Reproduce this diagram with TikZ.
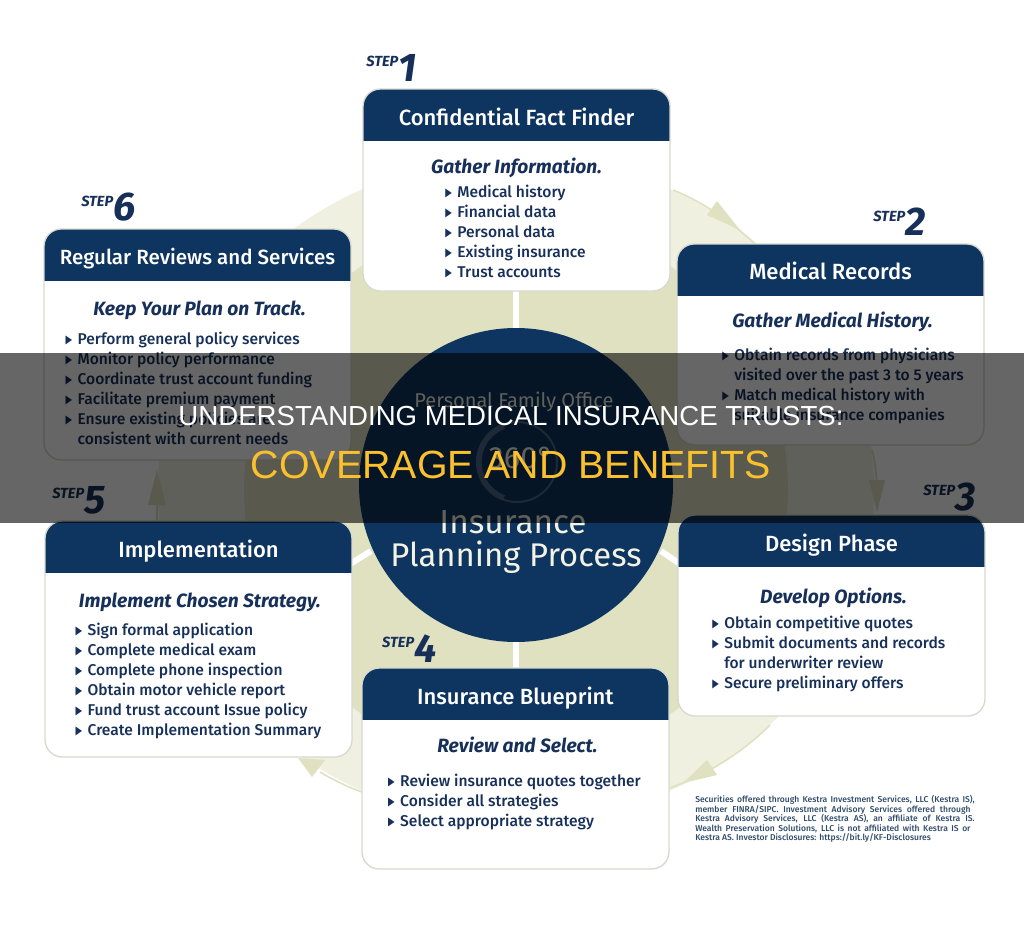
\documentclass[tikz,border=0pt]{standalone}
\usepackage{fontspec}
\setmainfont{Fira Sans}
\newfontfamily\medfont{Fira Sans Medium}
\newfontfamily\bannerfont{Liberation Sans}
\newfontfamily\tridfont{DejaVu Sans}
\usetikzlibrary{positioning}

\definecolor{navy}{HTML}{0E3560}
\definecolor{inknavy}{HTML}{17305A}
\definecolor{ringpale}{HTML}{EFF0E0}
\definecolor{ringdark}{HTML}{DFE1C1}
\definecolor{cardedge}{HTML}{D8D9D0}
\definecolor{hubcream}{HTML}{F2F3E4}
\definecolor{finegrey}{HTML}{2E4A68}
\definecolor{bannergold}{HTML}{FBC02D}

\newcommand{\itm}[1]{\rule{0pt}{11pt}\makebox[9pt][l]{\raisebox{0.6pt}{\tridfont\fontsize{8}{8}\selectfont\scalebox{0.8}[1.1]{▶}}}#1}
\newcommand{\cont}[1]{\rule{0pt}{11pt}\hspace*{9pt}#1}
\newcommand{\stepno}[1]{\raisebox{11pt}{\fontsize{11}{11}\selectfont STEP}\kern0.4pt{\fontsize{30}{30}\selectfont #1}}
\newcommand{\fineline}[2]{\makebox[#1][s]{#2}}

\tikzset{card/.style={rectangle,rounded corners=13pt,draw=cardedge,fill=white,line width=1pt,outer sep=0pt,inner sep=0pt,minimum width=230.25pt,
  path picture={\fill[navy,sharp corners] (path picture bounding box.north west) rectangle ([yshift=-39pt]path picture bounding box.north east);}}}
\tikzset{cardhead/.style={text=white,font=\medfont\fontsize{16.5}{16.5}\selectfont,inner sep=0pt,text height=12pt,text depth=3.5pt}}
\tikzset{cardsub/.style={text=inknavy,font=\bfseries\itshape\fontsize{14.4}{14.4}\selectfont,inner sep=0pt,text height=11pt,text depth=3.5pt}}
\tikzset{cardlist/.style={text=inknavy,anchor=north west,align=left,inner sep=0pt,font=\medfont\fontsize{11.7}{15}\selectfont}}
\tikzset{steplabel/.style={text=inknavy,anchor=base west,inner sep=0pt,font=\bfseries\itshape}}
\tikzset{hubtext/.style={text=hubcream,inner sep=0pt}}
\tikzset{spoke/.style={white,line width=4.5pt}}

\begin{document}
\begin{tikzpicture}[x=0.75pt,y=-0.75pt]
\useasboundingbox (0,0) rectangle (1024,925);
\fill[white] (0,0) rectangle (1024,925);
% ring and its arrows
\fill[ringpale] (516,490) ellipse [x radius=358,y radius=333];
\draw[ringdark,line width=1.2pt] (673,190) .. controls (705,203) and (732,222) .. (758,247);
\draw[ringdark,line width=1.2pt] (872,450) .. controls (875,460) and (876,470) .. (877,490);
\draw[ringdark,line width=1.2pt] (770,725) .. controls (740,755) and (705,775) .. (670,788);
\draw[ringdark,line width=1.2pt] (320,772) .. controls (335,781) and (348,787) .. (362,792);
\draw[ringdark,line width=1.2pt] (157,490) -- (157,521);
\fill[ringdark] (516,490) circle [radius=272];
\fill[ringdark] (717,201) -- (740,230) -- (707,215) -- cycle;
\fill[ringdark] (885,480) -- (877,512) -- (869,480) -- cycle;
\fill[ringdark] (717,775) -- (683,783) -- (707,760) -- cycle;
\fill[ringdark] (312,777) -- (298,758) -- (325,760) -- cycle;
\fill[ringdark] (148,505) -- (157,470) -- (166,505) -- cycle;

\node (hub) [circle,fill=navy,minimum size=235.5pt,inner sep=0pt,outer sep=0pt] at (516,485) {};
\draw[spoke] (516,285) -- (hub.north);
\draw[spoke] (516,672) -- (hub.south);
\draw[spoke] (350,564) -- (371,551);
\draw[spoke] (661,551) -- (680,564);

\node (hubA) [hubtext,font=\fontsize{15}{15}\selectfont] at (514,402) {Personal Family Office};
\draw[line width=1.5pt,color=navy!75!white] (517,462) circle [radius=40];
\draw[line width=4pt,color=navy!75!white] (517,462) ++(110:38) arc [start angle=110,end angle=250,radius=38];
\node (hubB) [hubtext,font=\fontsize{23}{23}\selectfont] at (521,458) {360°};
\node (hubC) [hubtext,font=\fontsize{25}{25}\selectfont] at (513,522) {Insurance};
\node (hubD) [hubtext,font=\fontsize{24.6}{24.6}\selectfont] at (516,557) {Planning Process};

% the six cards
\node (fact) [card,minimum height=151.5pt,above=27.75pt of hub,xshift=0.4pt] {};
\node (review) [card,minimum height=173.25pt,left=6pt of hub,yshift=105.4pt] {};
\node (records) [card,minimum height=150.75pt,right=3pt of hub,yshift=105.4pt] {};
\node (design) [card,minimum height=150.75pt,right=3.75pt of hub,yshift=-97.9pt] {};
\node (implement) [card,minimum height=177pt,left=5.25pt of hub,yshift=-115.5pt] {};
\node (blueprint) [card,minimum height=150.75pt,below=19.5pt of hub,xshift=-0.4pt] {};

\node (factH) [cardhead] at ([yshift=-22.75pt]fact.north) {Confidential Fact Finder};
\node (factS) [cardsub] at ([yshift=-59.25pt]fact.north) {Gather Information.};
\node (factL) [cardlist] at ([xshift=61.5pt,yshift=-70pt]fact.north west) {\itm{Medical history}\\\itm{Financial data}\\\itm{Personal data}\\\itm{Existing insurance}\\\itm{Trust accounts}};
\node (factN) [steplabel] at ([xshift=2.25pt,yshift=6pt]fact.north west) {\stepno{1}};

\node (reviewH) [cardhead,font=\medfont\fontsize{15.4}{15.4}\selectfont] at ([yshift=-22.75pt]review.north) {Regular Reviews and Services};
\node (reviewS) [cardsub,xshift=1.5pt] at ([yshift=-61.5pt]review.north) {Keep Your Plan on Track.};
\node (reviewL) [cardlist] at ([xshift=16pt,yshift=-75.2pt]review.north west) {\itm{Perform general policy services}\\\itm{Monitor policy performance}\\\itm{Coordinate trust account funding}\\\itm{Facilitate premium payment}\\\itm{Ensure existing policies are}\\\cont{consistent with current needs}};
\node (reviewN) [steplabel] at ([xshift=27.75pt,yshift=6pt]review.north west) {\stepno{6}};

\node (recordsH) [cardhead] at ([yshift=-22.75pt]records.north) {Medical Records};
\node (recordsS) [cardsub,xshift=1.5pt] at ([yshift=-59.25pt]records.north) {Gather Medical History.};
\node (recordsL) [cardlist] at ([xshift=33.75pt,yshift=-76pt]records.north west) {\itm{Obtain records from physicians}\\\cont{visited over the past 3 to 5 years}\\\itm{Match medical history with}\\\cont{suitable insurance companies}};
\node (recordsN) [steplabel] at ([xshift=147pt,yshift=6pt]records.north west) {\stepno{2}};

\node (designH) [cardhead] at ([yshift=-22.75pt]design.north) {Design Phase};
\node (designS) [cardsub,xshift=1.5pt] at ([yshift=-62.25pt]design.north) {Develop Options.};
\node (designL) [cardlist] at ([xshift=25.5pt,yshift=-73.75pt]design.north west) {\itm{Obtain competitive quotes}\\\itm{Submit documents and records}\\\cont{for underwriter review}\\\itm{Secure preliminary offers}};
\node (designN) [steplabel] at ([xshift=183.75pt,yshift=3.75pt]design.north west) {\stepno{3}};

\node (implementH) [cardhead] at ([yshift=-22.75pt]implement.north) {Implementation};
\node (implementS) [cardsub,xshift=1pt] at ([yshift=-60.75pt]implement.north) {Implement Chosen Strategy.};
\node (implementL) [cardlist] at ([xshift=22.75pt,yshift=-74.5pt]implement.north west) {\itm{Sign formal application}\\\itm{Complete medical exam}\\\itm{Complete phone inspection}\\\itm{Obtain motor vehicle report}\\\itm{Fund trust account Issue policy}\\\itm{Create Implementation Summary}};
\node (implementN) [steplabel] at ([xshift=5.25pt,yshift=6pt]implement.north west) {\stepno{5}};

\node (blueprintH) [cardhead] at ([yshift=-22.75pt]blueprint.north) {Insurance Blueprint};
\node (blueprintS) [cardsub,xshift=1.5pt] at ([yshift=-59.25pt]blueprint.north) {Review and Select.};
\node (blueprintL) [cardlist] at ([xshift=19.5pt,yshift=-77.5pt]blueprint.north west) {\itm{Review insurance quotes together}\\\itm{Consider all strategies}\\\itm{Select appropriate strategy}};
\node (blueprintN) [steplabel] at ([xshift=15pt,yshift=4.5pt]blueprint.north west) {\stepno{4}};

\node (disclosure) [anchor=north west,align=left,inner sep=0pt,text=finegrey,font=\medfont\fontsize{6.4}{7.15}\selectfont] at (695,795) {\fineline{209.5pt}{Securities offered through Kestra Investment Services, LLC (Kestra IS),}\\\fineline{206.5pt}{member FINRA/SIPC. Investment Advisory Services offered through}\\\fineline{209.5pt}{Kestra Advisory Services, LLC (Kestra AS), an affiliate of Kestra IS.}\\\fineline{206.5pt}{Wealth Preservation Solutions, LLC is not affiliated with Kestra IS or}\\Kestra AS. Investor Disclosures: https://bit.ly/KF-Disclosures};

% banner over everything
\fill[black,opacity=0.6] (0,353) rectangle (1024,523);
\node (bannerA) [text=white,inner sep=0pt,font=\bannerfont\fontsize{20.7}{20.7}\selectfont] at (511,416) {UNDERSTANDING MEDICAL INSURANCE TRUSTS:};
\node (bannerB) [text=bannergold,inner sep=0pt,font=\bannerfont\fontsize{29.5}{29.5}\selectfont] at (511,465) {COVERAGE AND BENEFITS};
\end{tikzpicture}
\end{document}
